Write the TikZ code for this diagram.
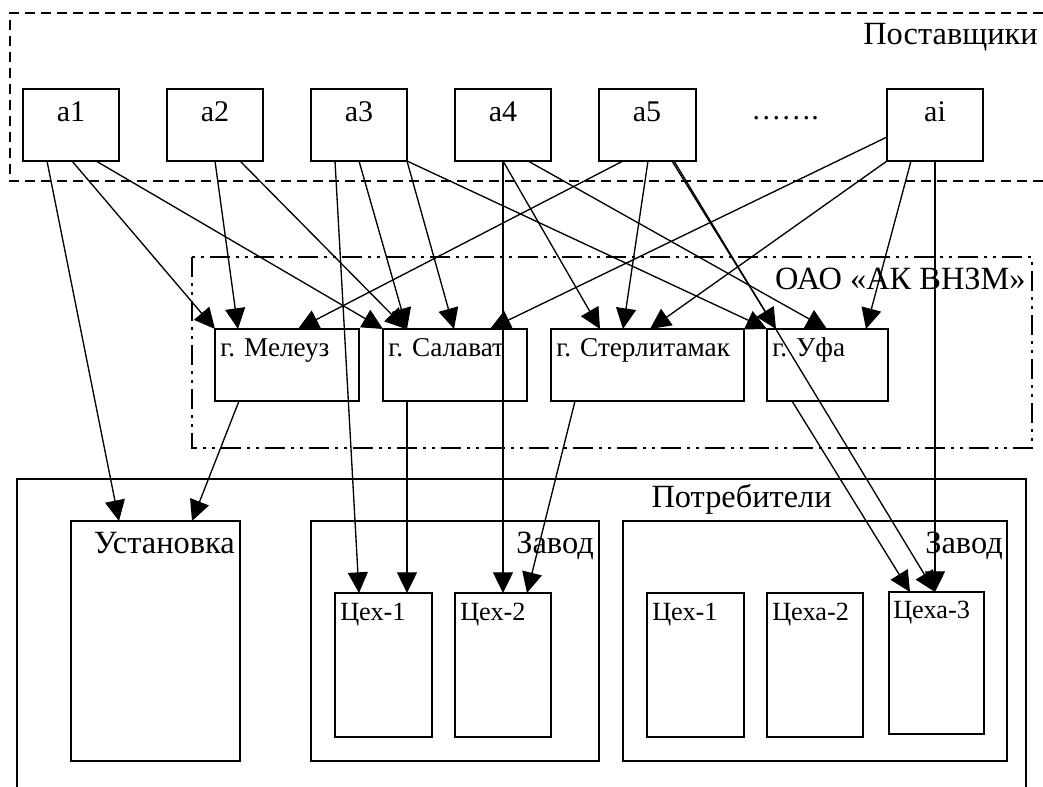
\documentclass[tikz,border=0pt]{standalone}
\usepackage{fontspec}
\setmainfont{Liberation Serif}
\usetikzlibrary{arrows.meta,calc}
\begin{document}
\begin{tikzpicture}[x=0.75pt,y=-0.75pt,
  bx/.style 2 args={draw,line width=1.15pt,minimum width=#1*0.75pt,minimum height=#2*0.75pt,anchor=north west,inner sep=0pt,outer sep=0pt},
  arr/.style={line width=1pt,-{Triangle[length=15.5pt,width=15pt]}},
  sup/.style={font=\fontsize{22.5}{26}\selectfont,inner sep=0pt},
  big/.style={font=\fontsize{24.3}{28}\selectfont,inner sep=0pt},
  mid/.style={font=\fontsize{20.4}{24}\selectfont,inner sep=0pt},
  sml/.style={font=\fontsize{19.7}{23}\selectfont,inner sep=0pt},
  dashframe/.style={line width=1.6pt,dash pattern=on 7.5pt off 4.5pt},
  dotframe/.style={line width=1.6pt,dash pattern=on 15pt off 4.5pt on 2.25pt off 4.5pt on 2.25pt off 4.5pt},
  plainframe/.style={line width=1.15pt}]
\useasboundingbox (0,0) rectangle (1043,787);
\fill[white] (0,0) rectangle (1043,787);

% group frames
\draw[dashframe] (1043,13) -- (10,13) -- (10,181) -- (1043,181);
\draw[dotframe] (192,257) rectangle (1032,448);
\draw[plainframe] (17,787) -- (17,479) -- (1026,479) -- (1026,787);

\node[big,anchor=base east] (tpost) at (1038,45) {Поставщики};
\node[big,anchor=base east] (toao) at (1026,290) {ОАО «АК ВНЗМ»};
\node[big,anchor=base east] (tpotr) at (832,508) {Потребители};

% suppliers
\node[bx={96}{72}] (a1) at (23,89) {};
\node[bx={96}{72}] (a2) at (167,89) {};
\node[bx={96}{72}] (a3) at (311,89) {};
\node[bx={96}{72}] (a4) at (455,89) {};
\node[bx={97}{72}] (a5) at (599,89) {};
\node[bx={96}{72}] (ai) at (887,89) {};
\node[sup,anchor=base] (ta1) at (71,122) {a1};
\node[sup,anchor=base] (ta2) at (215,122) {a2};
\node[sup,anchor=base] (ta3) at (359,122) {a3};
\node[sup,anchor=base] (ta4) at (503,122) {a4};
\node[sup,anchor=base] (ta5) at (647,122) {a5};
\node[sup,anchor=base] (tai) at (935,122) {ai};
\node[sup,anchor=base] (tdots) at (785,120) {…….};

% cities
\node[bx={144}{72}] (mel) at (215,329) {};
\node[bx={144}{72}] (sal) at (383,329) {};
\node[bx={193}{72}] (ster) at (551,329) {};
\node[bx={121}{72}] (ufa) at (767,329) {};
\node[mid,anchor=base west] (tmel) at (220,357) {г. Мелеуз};
\node[mid,anchor=base west] (tsal) at (388,357) {г. Салават};
\node[mid,anchor=base west] (tster) at (556,357) {г. Стерлитамак};
\node[mid,anchor=base west] (tufa) at (772,357) {г. Уфа};

% consumers
\node[bx={169}{240}] (ust) at (71,521) {};
\node[big,anchor=base east] (tust) at (235,554) {Установка};
\node[bx={288}{240}] (zav1) at (311,521) {};
\node[big,anchor=base east] (tzav1) at (594,554) {Завод};
\node[bx={97}{144}] (c1a) at (335,593) {};
\node[bx={96}{144}] (c2a) at (455,593) {};
\node[sml,anchor=base west] (tc1a) at (340,621) {Цех-1};
\node[sml,anchor=base west] (tc2a) at (460,621) {Цех-2};
\node[bx={384}{240}] (zav2) at (623,521) {};
\node[big,anchor=base east] (tzav2) at (1003,554) {Завод};
\node[bx={97}{144}] (c1b) at (647,593) {};
\node[bx={96}{144}] (c2b) at (767,593) {};
\node[bx={95}{142}] (c3) at (889,592) {};
\node[sml,anchor=base west] (tc1b) at (652,621) {Цех-1};
\node[sml,anchor=base west] (tc2b) at (772,621) {Цеха-2};
\node[sml,anchor=base west] (tc3) at (893,619) {Цеха-3};

% connectors from a1
\draw[arr] ($(a1.south west)+(24,0)$) -- ($(ust.north west)+(48,0)$);
\draw[arr] ($(a1.south west)+(49,0)$) -- (mel.north west);
\draw[arr] ($(a1.south west)+(73,0)$) -- (sal.north west);
% a2
\draw[arr] ($(a2.south west)+(48,0)$) -- ($(mel.north west)+(23,0)$);
\draw[arr] ($(a2.south west)+(73,0)$) -- ($(sal.north west)+(23,0)$);
% a3
\draw[arr] ($(a3.south west)+(24,0)$) -- ($(c1a.north west)+(24,0)$);
\draw[arr] ($(a3.south west)+(48,0)$) -- ($(sal.north west)+(24,0)$);
\draw[arr] (a3.south east) -- ($(sal.north west)+(71,0)$);
\draw[arr] (a3.south east) -- (ufa.north west);
% a4
\draw[arr] ($(a4.south west)+(48,0)$) -- ($(c2a.north west)+(48,0)$);
\draw[arr] ($(a4.south west)+(48,0)$) -- ($(ster.north west)+(49,0)$);
\draw[arr] ($(a4.south west)+(73,0)$) -- ($(ufa.north west)+(60,0)$);
% a5
\draw[arr] ($(a5.south west)+(24,0)$) -- ($(mel.north west)+(83,0)$);
\draw[arr] ($(a5.south west)+(49,0)$) -- ($(ster.north west)+(72,0)$);
\draw[arr] ($(a5.south west)+(73,0)$) -- ($(ufa.north west)+(9,0)$);
\draw[arr] ($(a5.south west)+(75,0)$) -- ($(c3.north west)+(46,0)$);
% ai
\draw[arr] ($(ai.west)+(0,12)$) -- ($(sal.north west)+(107,0)$);
\draw[arr] (ai.south west) -- ($(ster.north west)+(99,0)$);
\draw[arr] ($(ai.south west)+(24,0)$) -- ($(ufa.north west)+(99,0)$);
\draw[arr] ($(ai.south west)+(48,0)$) -- ($(c3.north west)+(46,0)$);
% cities to consumers
\draw[arr] ($(mel.south west)+(24,0)$) -- ($(ust.north west)+(121,0)$);
\draw[arr] ($(sal.south west)+(24,0)$) -- ($(c1a.north west)+(72,0)$);
\draw[arr] ($(ster.south west)+(24,0)$) -- ($(c2a.north west)+(72,0)$);
\draw[arr] ($(ufa.south west)+(25,0)$) -- ($(c3.north west)+(21,0)$);
\end{tikzpicture}
\end{document}
